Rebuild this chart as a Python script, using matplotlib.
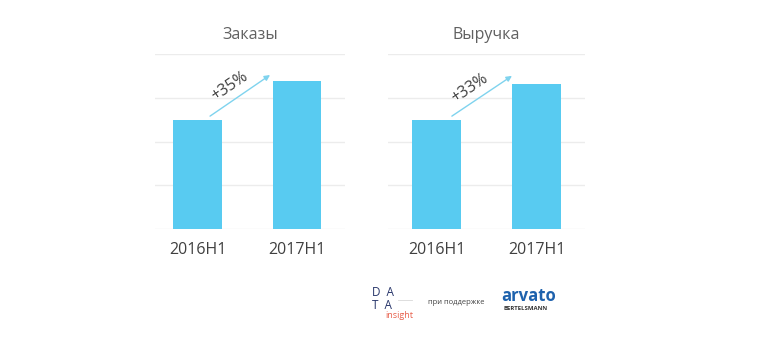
import matplotlib.pyplot as plt

plt.rcParams['font.family'] = ['Open Sans', 'DejaVu Sans']

periods = ['2016H1', '2017H1']
orders = [2.5, 3.375]
revenue = [2.5, 3.325]
orders_growth = '+35%'
revenue_growth = '+33%'

bar_color = '#58cbf1'
grid_color = '#ececec'

fig = plt.figure(figsize=(7.68, 3.48), dpi=100)


def panel(rect, xlim, values, title, growth, arrow, text_xy):
    ax = fig.add_axes(rect)
    ax.bar(range(len(periods)), values, width=0.49, color=bar_color, zorder=2)
    ax.set_xlim(*xlim)
    ax.set_ylim(0, 4)
    ax.set_yticks([0, 1, 2, 3, 4])
    ax.yaxis.grid(True, color=grid_color, linewidth=1, zorder=0)
    ax.tick_params(axis='y', left=False, labelleft=False)
    ax.tick_params(axis='x', bottom=False, labelsize=11.5, labelcolor='#404040', pad=6)
    ax.set_xticks(range(len(periods)))
    ax.set_xticklabels(periods)
    for s in ax.spines.values():
        s.set_visible(False)
    ax.set_title(title, fontsize=11.5, color='#606060', pad=11)
    (x0, y0), (x1, y1) = arrow
    ax.annotate('', xy=(x1, y1), xytext=(x0, y0),
                arrowprops=dict(arrowstyle='-|>', color='#7fd3ee', lw=1,
                                mutation_scale=8, shrinkA=0, shrinkB=0),
                zorder=3)
    ax.text(text_xy[0], text_xy[1], growth, rotation=34, fontsize=11.5,
            color='#404040', ha='center', va='center', zorder=4)
    return ax


panel([155 / 768, 1 - 229 / 348, 190 / 768, 175 / 348], (-0.427, 1.482),
      orders, 'Заказы', orders_growth,
      ((0.126, 2.58), (0.729, 3.52)), (0.327, 3.25))
panel([388 / 768, 1 - 229 / 348, 197 / 768, 175 / 348], (-0.49, 1.487),
      revenue, 'Выручка', revenue_growth,
      ((0.151, 2.58), (0.754, 3.50)), (0.33, 3.22))

# logos along the bottom
fig.text(372 / 768, 1 - 299 / 348, 'D  A\nT  A', fontsize=8.5, color='#27356a',
         ha='left', va='center', linespacing=0.95)
fig.lines.append(plt.Line2D([398 / 768, 412 / 768], [1 - 300 / 348] * 2,
                            transform=fig.transFigure, color='#d8d8d8', lw=0.6))
fig.text(385 / 768, 1 - 316 / 348, 'insight', fontsize=6.5, color='#e8604c', va='center')
fig.text(428 / 768, 1 - 303 / 348, 'при поддержке', fontsize=5.5, color='#444444', va='center')
fig.text(501 / 768, 1 - 296 / 348, 'arvato', fontsize=12, color='#1e62ad',
         fontweight='bold', va='center')
fig.text(504 / 768, 1 - 309 / 348, 'BERTELSMANN', fontsize=4.3, color='#333333',
         fontweight='bold', va='center')

fig.savefig('out.png', dpi=100, facecolor='white')
